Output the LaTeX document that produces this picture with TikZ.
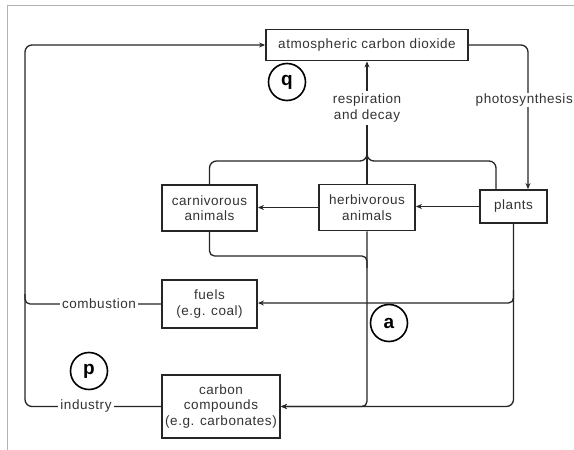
\documentclass[tikz,border=0pt]{standalone}
\usepackage{fontspec}
\setmainfont{Liberation Sans}
\newfontfamily\lblfont[LetterSpace=4]{Liberation Sans}
\usetikzlibrary{arrows.meta}
\tikzset{
  box/.style={draw=black!85, line width=1.9pt, inner sep=0pt, align=center,
    font=\lblfont\fontsize{13.5}{15.5}\selectfont, text=black!80},
  conn/.style={draw=black!85, line width=1.3pt, rounded corners=7pt},
  arr/.style={conn, -{Stealth[length=6pt,width=5pt]}},
  lbl/.style={fill=white, inner sep=2.5pt, align=center,
    font=\lblfont\fontsize{13.5}{15.5}\selectfont, text=black!80},
  marker/.style={draw=black, line width=1.6pt, circle, minimum size=37pt, inner sep=0pt,
    font=\bfseries\fontsize{19}{19}\selectfont},
}
\begin{document}
\begin{tikzpicture}[x=1pt,y=-1pt]
\useasboundingbox (0,0) rectangle (574,450);
\fill[white] (0,0) rectangle (574,450);
% frame
\draw[black!30, line width=1pt] (7,450) -- (7,5.5) -- (574,5.5);

% boxes
\node[box, minimum width=202pt, minimum height=31pt] (atm) at (367,45) {atmospheric carbon dioxide};
\node[box, minimum width=95pt, minimum height=46pt] (carn) at (209.5,208) {carnivorous\\animals};
\node[box, minimum width=96pt, minimum height=46pt] (herb) at (367,207.5) {herbivorous\\animals};
\node[box, minimum width=67pt, minimum height=33pt] (plants) at (513.5,206.5) {plants};
\node[box, minimum width=95pt, minimum height=48pt] (fuels) at (209.5,304) {fuels\\(e.g. coal)};
\node[box, minimum width=118pt, minimum height=63pt] (cc) at (221,406.5) {carbon\\compounds\\(e.g. carbonates)};

% left loop
\draw[arr] (cc.west) -- (25,406.5) -- (25,45) -- (atm.west);
\draw[conn, rounded corners=5pt] (fuels.west) -- (25,304) -- (25,294);
\node[lbl] (ind) at (86,406.5) {industry};
\node[lbl] (comb) at (99,304) {combustion};

% respiration
\draw[arr] (herb.north) -- (atm.south);
\node[lbl] (resp) at (367,108) {respiration\\and decay};

% brace
\draw[conn] (carn.north) -- (209.5,161) -- (367,161) -- (367,150);
\draw[conn] ([xshift=-17.5pt]plants.north) -- (496,161) -- (367,161) -- (367,150);

% photosynthesis
\draw[arr] (atm.east) -| ([xshift=14.5pt]plants.north);
\node[lbl, anchor=east, inner sep=1pt] (photo) at (574,100) {photosynthesis};

% food chain
\draw[arr] (herb.west) -- (carn.east |- herb.west);
\draw[arr] (plants.west) -- (herb.east |- plants.west);

% carnivore decay loop
\draw[conn, rounded corners=5pt] (carn.south) -- (209.5,256) -- (367,256) -- (367,268);

% to carbon compounds
\draw[arr, rounded corners=5pt] (herb.south) -- (367,406.5) -- (cc.east);
\draw[arr] (plants.south) -- (513.5,406.5) -- (cc.east);

% to fuels
\draw[arr, rounded corners=5pt] (513.5,290) -- (513.5,303) -- (fuels.east |- 0,303);

% markers
\node[marker, fill=white] (q) at (287,82) {q};
\node[marker, fill=white] (p) at (89,371) {p};
\node[marker] (a) at (389,323) {a};
\end{tikzpicture}
\end{document}
